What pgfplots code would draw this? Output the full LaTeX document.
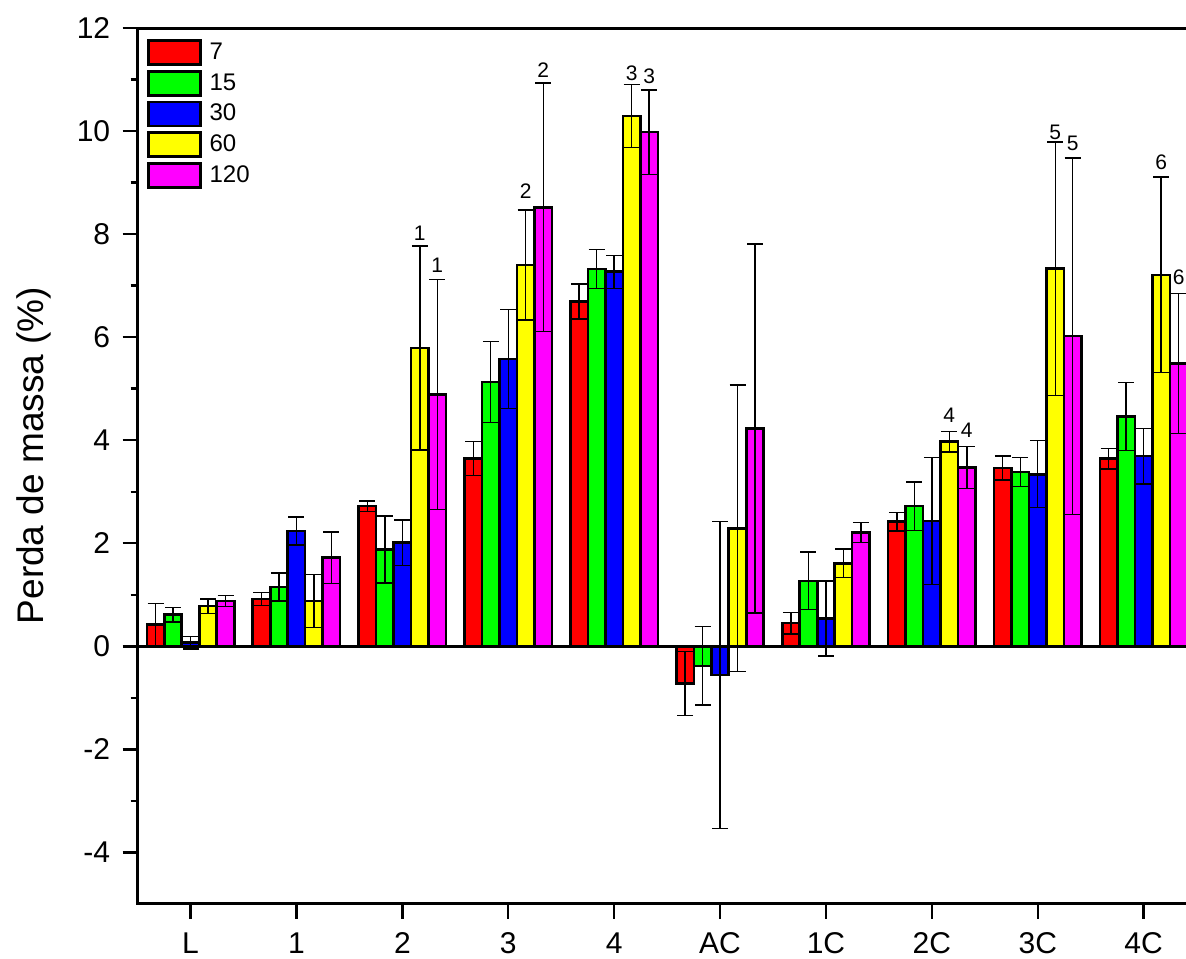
\documentclass[border=0pt]{standalone}
\usepackage{fontspec}
\setmainfont{Liberation Sans}
\usepackage{pgfplots}
\usepackage{pgfplotstable}
\pgfplotsset{compat=1.18}
\definecolor{cr}{RGB}{255,0,0}
\definecolor{cg}{RGB}{0,255,0}
\definecolor{cb}{RGB}{0,0,255}
\definecolor{cy}{RGB}{255,255,0}
\definecolor{cm}{RGB}{255,0,255}
\pgfplotstableread{
x a ea b eb c ec d ed f ef
0 0.42 0.41 0.615 0.14 0.07 0.12 0.78 0.14 0.88 0.11
1 0.92 0.13 1.15 0.27 2.24 0.27 0.88 0.51 1.72 0.50
2 2.72 0.10 1.88 0.65 2.01 0.44 5.79 1.98 4.89 2.23
3 3.65 0.33 5.13 0.79 5.58 0.96 7.40 1.07 8.52 2.41
4 6.69 0.34 7.32 0.38 7.27 0.32 10.29 0.61 9.98 0.82
5 -0.72 0.62 -0.38 0.76 -0.56 2.98 2.29 2.78 4.23 3.58
6 0.45 0.21 1.27 0.56 0.54 0.73 1.61 0.28 2.21 0.19
7 2.42 0.18 2.72 0.47 2.43 1.23 3.97 0.20 3.47 0.41
8 3.46 0.23 3.38 0.28 3.34 0.65 7.33 2.46 6.02 3.46
9 3.64 0.20 4.46 0.66 3.69 0.54 7.21 1.90 5.49 1.36
}\data
\begin{document}
\begin{tikzpicture}
\begin{axis}[
  scale only axis, width=523.85pt, height=437.65pt,
  xmin=-0.5, xmax=9.4, ymin=-5, ymax=12,
  axis x line=box, axis y line=left,
  axis line style={-, black},
  xtick={0,...,9}, xticklabels={L,1,2,3,4,AC,1C,2C,3C,4C},
  xtick pos=bottom,
  ytick={-4,-2,0,2,4,6,8,10,12}, minor y tick num=1,
  tick align=outside,
  major tick length=7.5pt, minor tick length=3.5pt,
  every tick/.style={black, line width=1.2pt},
  /pgf/number format/assume math mode=true,
  tick label style={font=\fontsize{15}{17}\selectfont},
  yticklabel style={inner sep=0pt, xshift=-6pt},
  xticklabel style={inner sep=0pt, yshift=-6.5pt},
  ylabel={Perda de massa (\%)},
  every axis y label/.style={at={(axis description cs:-0.0987,0.512)}, rotate=90, anchor=center, font=\fontsize{18.5}{21}\selectfont},
  ybar=0pt, bar width=8.74pt,
  error bars/y dir=both, error bars/y explicit,
  error bars/error bar style={line width=0.7pt, black},
  error bars/error mark options={rotate=90, mark size=4pt, line width=0.7pt, black},
  legend style={draw=none, fill=none, at={(axis description cs:0,1)}, anchor=north west,
    xshift=4.5pt, yshift=-5.5pt, inner sep=0pt, row sep=2pt, column sep=4pt,
    font=\fontsize{12}{14}\selectfont, nodes={inner sep=0pt}},
  legend cell align=left,
  legend image code/.code={\draw[#1, line width=1.3pt] (0pt,-6pt) rectangle (26pt,6pt);},
]
\addplot[draw=black, line width=1.3pt, fill=cr] table[x=x, y=a, y error=ea] {\data};
\addplot[draw=black, line width=1.3pt, fill=cg] table[x=x, y=b, y error=eb] {\data};
\addplot[draw=black, line width=1.3pt, fill=cb] table[x=x, y=c, y error=ec] {\data};
\addplot[draw=black, line width=1.3pt, fill=cy] table[x=x, y=d, y error=ed] {\data};
\addplot[draw=black, line width=1.3pt, fill=cm] table[x=x, y=f, y error=ef] {\data};
\legend{7,15,30,60,120}
\draw[line width=1.5pt, black] (axis cs:-0.5,0) -- (axis cs:9.4,0);
\begin{scope}[every node/.style={anchor=base, inner sep=0pt, font=\fontsize{10.5}{12}\selectfont}]
\node at (axis cs:2.165,7.88) {1};
\node at (axis cs:2.33,7.26) {1};
\node at (axis cs:3.165,8.70) {2};
\node at (axis cs:3.33,11.03) {2};
\node at (axis cs:4.165,10.99) {3};
\node at (axis cs:4.33,10.93) {3};
\node at (axis cs:7.165,4.34) {4};
\node at (axis cs:7.33,4.06) {4};
\node at (axis cs:8.165,9.84) {5};
\node at (axis cs:8.33,9.62) {5};
\node at (axis cs:9.165,9.26) {6};
\node at (axis cs:9.33,7.03) {6};
\end{scope}
\coordinate (SW) at (rel axis cs:0,0);
\coordinate (NW) at (rel axis cs:0,1);
\coordinate (SE) at (rel axis cs:1,0);
\coordinate (NE) at (rel axis cs:1,1);
\end{axis}
\draw[line width=1.5pt, black, line cap=rect] (SE) -- (SW) -- (NW) -- (NE);
\pgfresetboundingbox
\path[use as bounding box] ([shift={(-68.75pt,-27.35pt)}]SW) rectangle ([shift={(0pt,14pt)}]NE);
\end{tikzpicture}
\end{document}
